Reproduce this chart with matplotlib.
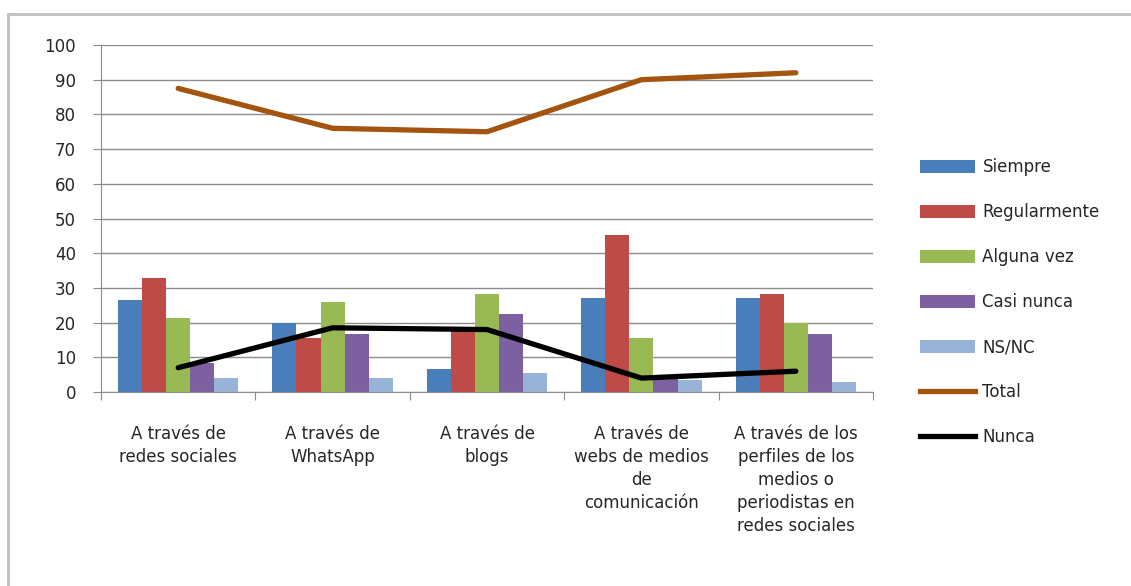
import numpy as np
import matplotlib.pyplot as plt
from matplotlib.patches import Patch, Rectangle
from matplotlib.lines import Line2D

categories = [
    "A través de\nredes sociales",
    "A través de\nWhatsApp",
    "A través de\nblogs",
    "A través de\nwebs de medios\nde\ncomunicación",
    "A través de los\nperfiles de los\nmedios o\nperiodistas en\nredes sociales",
]
siempre = [26.5, 20, 6.5, 27, 27]
regularmente = [32.8, 15.5, 18.5, 45.2, 28.3]
alguna_vez = [21.2, 25.8, 28.3, 15.5, 20]
casi_nunca = [8.5, 16.8, 22.5, 4.5, 16.8]
ns_nc = [4, 4, 5.5, 3.5, 3]
total = [87.5, 76, 75, 90, 92]
nunca = [7, 18.5, 18, 4, 6]

bar_series = [
    ("Siempre", siempre, "#4a7ebb"),
    ("Regularmente", regularmente, "#be4b48"),
    ("Alguna vez", alguna_vez, "#98b954"),
    ("Casi nunca", casi_nunca, "#7d60a0"),
    ("NS/NC", ns_nc, "#97b3d8"),
]

plt.rcParams['font.family'] = ['DejaVu Sans']
txt = "#262626"

fig = plt.figure(figsize=(11.31, 5.86), dpi=100)
fig.patches.append(Rectangle((8 / 1131, -0.01), 1.02, (586 - 14) / 586 + 0.01,
                             transform=fig.transFigure, fill=False,
                             edgecolor="#bfbfbf", linewidth=2))

ax = fig.add_axes([101 / 1131, 194 / 586, 772 / 1131, 347 / 586])
x = np.arange(len(categories))
w = 0.156
for i, (name, vals, col) in enumerate(bar_series):
    ax.bar(x + (i - 2) * w, vals, width=w, color=col, label=name, zorder=2)

ax.plot(x, total, color="#a3540f", linewidth=3.8, zorder=3, solid_capstyle="round")
ax.plot(x, nunca, color="#000000", linewidth=3.8, zorder=3, solid_capstyle="round")

ax.set_xlim(-0.5, len(categories) - 0.5)
ax.set_ylim(0, 100)
ax.set_yticks(range(0, 101, 10))
ax.yaxis.grid(True, color="#8c8c8c", linewidth=1)
ax.set_axisbelow(True)
for s in ["top", "right"]:
    ax.spines[s].set_visible(False)
ax.spines["left"].set_color("#8c8c8c")
ax.spines["bottom"].set_color("#8c8c8c")

ax.set_xticks(np.arange(-0.5, len(categories), 1.0))
ax.set_xticklabels([])
ax.tick_params(axis="x", length=6, color="#8c8c8c", direction="out")
ax.set_xticks(x, minor=True)
ax.set_xticklabels(categories, minor=True, fontsize=12, linespacing=1.35, color=txt)
ax.tick_params(axis="x", which="minor", length=0, pad=24)
ax.tick_params(axis="y", length=6, color="#8c8c8c", labelsize=12, pad=12, labelcolor=txt)

handles = [Patch(facecolor=c, edgecolor="none") for _, _, c in bar_series]
handles += [Line2D([0], [0], color="#a3540f", lw=3.8),
            Line2D([0], [0], color="#000000", lw=3.8)]
labels = [n for n, _, _ in bar_series] + ["Total", "Nunca"]
leg = fig.legend(handles, labels, loc="upper left", bbox_to_anchor=(905 / 1131, 1 - 143 / 586),
                 frameon=False, fontsize=12, handlelength=3.3, handleheight=0.8,
                 labelspacing=1.62, handletextpad=0.45)
for t in leg.get_texts():
    t.set_color(txt)

fig.savefig("out.png", dpi=100)
